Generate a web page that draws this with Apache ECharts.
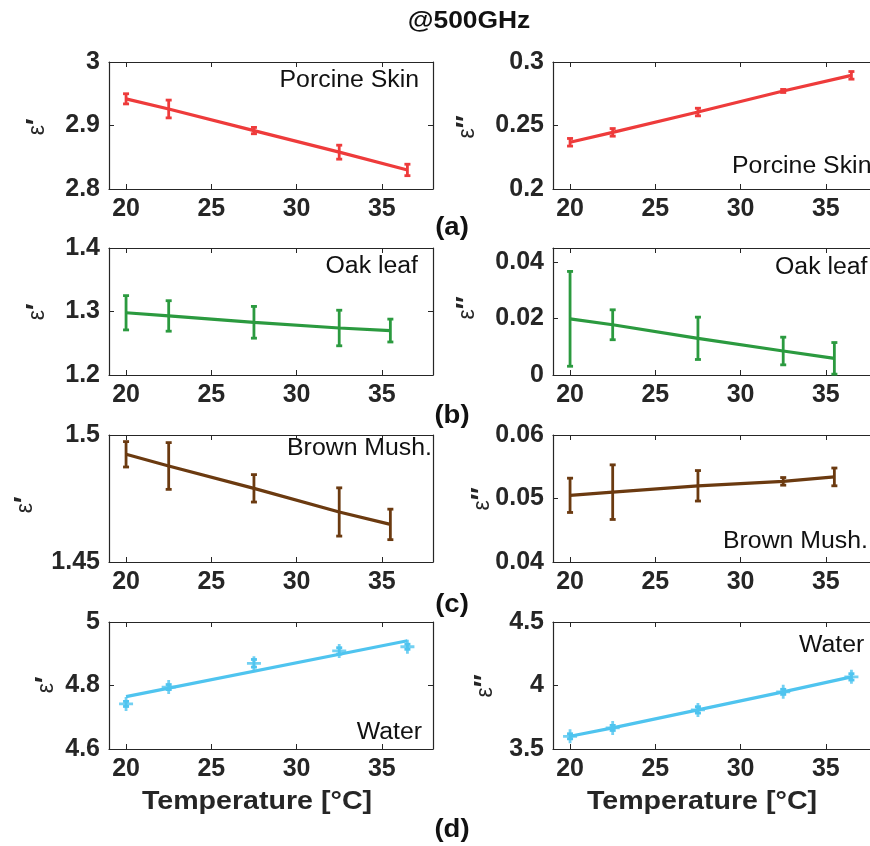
<!DOCTYPE html>
<html>
<head>
<meta charset="utf-8">
<script src="https://cdn.jsdelivr.net/npm/echarts@6/dist/echarts.min.js"></script>
<style>
  html, body { margin: 0; background: #fff; }
  #chart { width: 870px; height: 846px; }
</style>
</head>
<body>
<div id="chart"></div>
<script>
// temperatures [°C]
const tempsA = [20, 22.5, 27.5, 32.5, 36.5];
const tempsB = [20, 22.5, 27.5, 32.5, 35.5];
const xTicks = [20, 25, 30, 35];

// porcine skin
const porcineRe = [2.942, 2.926, 2.892, 2.858, 2.830];
const porcineReErr = [0.008, 0.014, 0.005, 0.011, 0.009];
const porcineIm = [0.2368, 0.2446, 0.2606, 0.2772, 0.2895];
const porcineImErr = [0.003, 0.003, 0.003, 0.0012, 0.003];

// oak leaf
const oakRe = [1.298, 1.293, 1.283, 1.274, 1.270];
const oakReErr = [0.027, 0.024, 0.025, 0.028, 0.018];
const oakIm = [0.0199, 0.0178, 0.0130, 0.0085, 0.0059];
const oakImErr = [0.0168, 0.0053, 0.0075, 0.0049, 0.0056];

// brown mushroom
const mushRe = [1.4924, 1.4878, 1.4790, 1.4697, 1.4648];
const mushReErr = [0.005, 0.0092, 0.0054, 0.0095, 0.006];
const mushIm = [0.0505, 0.0510, 0.0520, 0.0527, 0.0534];
const mushImErr = [0.0027, 0.0043, 0.0024, 0.0006, 0.0014];

// water
const waterRe = [4.742, 4.795, 4.870, 4.909, 4.922];
const waterReErr = [0.008, 0.008, 0.012, 0.01, 0.008];
const waterReFitX = [20, 36.5];
const waterReFit = [4.765, 4.941];
const waterIm = [3.600, 3.666, 3.808, 3.950, 4.068];
const waterImErr = [0.02, 0.02, 0.025, 0.02, 0.025];

// y tick values per panel
const ticksPorcineRe = [2.8, 2.9, 3];
const ticksPorcineIm = [0.2, 0.25, 0.3];
const ticksOakRe = [1.2, 1.3, 1.4];
const ticksOakIm = [0, 0.02, 0.04];
const ticksMushRe = [1.45, 1.5];
const ticksMushIm = [0.04, 0.05, 0.06];
const ticksWaterRe = [4.6, 4.8, 5];
const ticksWaterIm = [3.5, 4, 4.5];

const RED = '#ee3b3b', GREEN = '#2b9a3f', BROWN = '#6b3a10', CYAN = '#4fc4ef';
const AXIS = '#262626';
const FONT = '"Liberation Sans", Arial, sans-serif';

const colLeft = [109, 553];
const colWidth = 324;
const rowTop = [62, 248, 435, 622];
const rowH = 127;

const panels = [
  { c: 0, r: 0, x: tempsA, y: porcineRe, e: porcineReErr, color: RED, min: 2.8, max: 3, ticks: ticksPorcineRe,
    name: '′', namePos: [38, 127], note: 'Porcine Skin', notePos: [419, 81], align: 'right' },
  { c: 1, r: 0, x: tempsA, y: porcineIm, e: porcineImErr, color: RED, min: 0.2, max: 0.3, ticks: ticksPorcineIm,
    name: '″', namePos: [468, 127], note: 'Porcine Skin', notePos: [732, 167], align: 'left' },
  { c: 0, r: 1, x: tempsB, y: oakRe, e: oakReErr, color: GREEN, min: 1.2, max: 1.4, ticks: ticksOakRe,
    name: '′', namePos: [38, 312], note: 'Oak leaf', notePos: [418, 267], align: 'right' },
  { c: 1, r: 1, x: tempsB, y: oakIm, e: oakImErr, color: GREEN, min: 0, max: 0.045, ticks: ticksOakIm,
    name: '″', namePos: [468, 308], note: 'Oak leaf', notePos: [775, 268], align: 'left' },
  { c: 0, r: 2, x: tempsB, y: mushRe, e: mushReErr, color: BROWN, min: 1.45, max: 1.5, ticks: ticksMushRe,
    name: '′', namePos: [26, 505], note: 'Brown Mush.', notePos: [432, 449], align: 'right' },
  { c: 1, r: 2, x: tempsB, y: mushIm, e: mushImErr, color: BROWN, min: 0.04, max: 0.06, ticks: ticksMushIm,
    name: '″', namePos: [483, 499], note: 'Brown Mush.', notePos: [723, 542], align: 'left' },
  { c: 0, r: 3, x: tempsA, y: waterRe, e: waterReErr, color: CYAN, min: 4.6, max: 5, ticks: ticksWaterRe,
    name: '′', namePos: [47, 685], note: 'Water', notePos: [422, 733], align: 'right',
    plus: true, fitX: waterReFitX, fitY: waterReFit },
  { c: 1, r: 3, x: tempsA, y: waterIm, e: waterImErr, color: CYAN, min: 3.5, max: 4.5, ticks: ticksWaterIm,
    name: '″', namePos: [486, 686], note: 'Water', notePos: [799, 646], align: 'left', plus: true }
];

const tickLabel = { show: true, fontFamily: FONT, fontWeight: 'bold', fontSize: 25, color: AXIS };
const axisLine = { show: true, onZero: false, lineStyle: { color: AXIS, width: 1.2 } };

const grid = [], xAxis = [], yAxis = [], series = [], graphic = [];

panels.forEach((p, i) => {
  grid.push({ left: colLeft[p.c], top: rowTop[p.r], width: colWidth, height: rowH, outerBoundsMode: 'none' });
  // bottom + mirrored top x axes
  ['bottom', 'top'].forEach((pos) => {
    xAxis.push({
      type: 'value', gridIndex: i, position: pos, min: 19, max: 38,
      splitLine: { show: false }, axisLine,
      axisTick: { show: true, inside: true, length: 5, customValues: xTicks, lineStyle: { color: AXIS } },
      axisLabel: pos === 'bottom'
        ? Object.assign({ margin: 8, customValues: xTicks }, tickLabel)
        : { show: false }
    });
  });
  ['left', 'right'].forEach((pos) => {
    yAxis.push({
      type: 'value', gridIndex: i, position: pos, min: p.min, max: p.max,
      splitLine: { show: false }, axisLine,
      axisTick: { show: true, inside: true, length: 5, customValues: p.ticks, lineStyle: { color: AXIS } },
      axisLabel: pos === 'left'
        ? Object.assign({ margin: 9, customValues: p.ticks }, tickLabel)
        : { show: false }
    });
  });
  const xi = i * 2, yi = i * 2;
  const lineX = p.fitX || p.x;
  const lineY = p.fitY || p.y;
  series.push({
    type: 'line', xAxisIndex: xi, yAxisIndex: yi, symbol: 'none', silent: true,
    data: lineX.map((v, k) => [v, lineY[k]]),
    lineStyle: { color: p.color, width: 3.2 }, z: 3
  });
  series.push({
    type: 'custom', xAxisIndex: xi, yAxisIndex: yi, silent: true, z: 4,
    data: p.x.map((v, k) => [v, p.y[k], p.e[k]]),
    encode: { x: 0, y: 1 },
    renderItem: (params, api) => {
      const x = api.value(0), y = api.value(1), e = api.value(2);
      const t = api.coord([x, y + e]), b = api.coord([x, y - e]);
      const w = 3;
      const st = { stroke: p.color, lineWidth: 2.8 };
      return {
        type: 'group', children: [
          { type: 'line', shape: { x1: t[0], y1: t[1], x2: b[0], y2: b[1] }, style: st },
          { type: 'line', shape: { x1: t[0] - w, y1: t[1], x2: t[0] + w, y2: t[1] }, style: st },
          { type: 'line', shape: { x1: b[0] - w, y1: b[1], x2: b[0] + w, y2: b[1] }, style: st }
        ]
      };
    }
  });
  if (p.plus) {
    series.push({
      type: 'scatter', xAxisIndex: xi, yAxisIndex: yi, silent: true, z: 5,
      symbol: 'path://M4,0H6V4H10V6H6V10H4V6H0V4H4Z', symbolSize: 14,
      itemStyle: { color: p.color },
      data: p.x.map((v, k) => [v, p.y[k]])
    });
  }
  graphic.push({
    type: 'text', x: p.namePos[0], y: p.namePos[1], rotation: Math.PI / 2,
    style: {
      text: '{e|ε}{p|' + p.name + '}', fill: AXIS,
      align: 'center', verticalAlign: 'middle',
      rich: {
        e: { fontFamily: FONT, fontSize: 23, color: AXIS },
        p: { fontFamily: FONT, fontSize: 27, fontWeight: 'bold', color: AXIS }
      }
    }
  });
  graphic.push({
    type: 'text', x: p.notePos[0], y: p.notePos[1], scaleX: 1.08,
    style: {
      text: p.note, font: '23px ' + FONT, fill: '#111',
      align: p.align, verticalAlign: 'middle'
    }
  });
});

// figure title, axis names and panel letters
graphic.push({ type: 'text', x: 469, y: 21, scaleX: 1.1,
  style: { text: '@500GHz', font: 'bold 24px ' + FONT, fill: '#111', align: 'center', verticalAlign: 'middle' } });
[[257, 802], [702, 802]].forEach(([x, y]) => {
  graphic.push({ type: 'text', x, y, scaleX: 1.1,
    style: { text: 'Temperature [°C]', font: 'bold 26px ' + FONT, fill: AXIS, align: 'center', verticalAlign: 'middle' } });
});
[['(a)', 228], ['(b)', 416], ['(c)', 605], ['(d)', 830]].forEach(([t, y]) => {
  graphic.push({ type: 'text', x: 452, y, scaleX: 1.1,
    style: { text: t, font: 'bold 25px ' + FONT, fill: '#111', align: 'center', verticalAlign: 'middle' } });
});

const chart = echarts.init(document.getElementById('chart'));
chart.setOption({
  animation: false,
  backgroundColor: '#fff',
  grid, xAxis, yAxis, series, graphic
});
</script>
</body>
</html>
